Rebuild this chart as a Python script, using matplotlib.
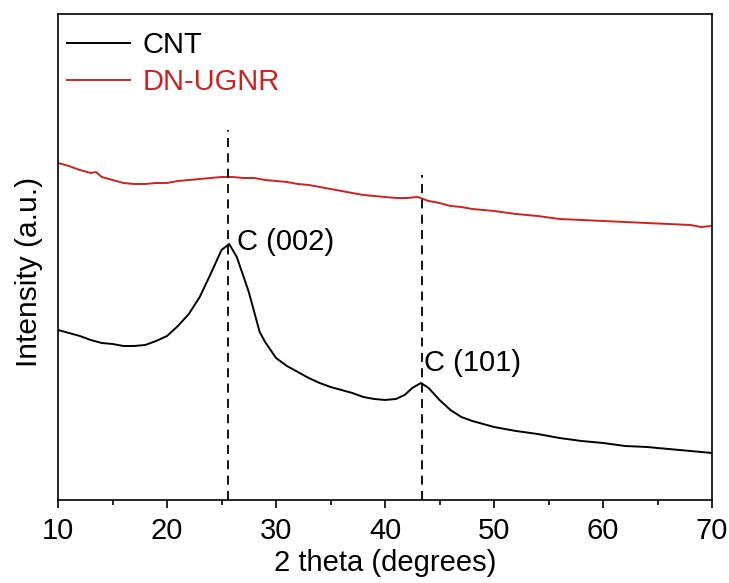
import matplotlib
matplotlib.use("Agg")
import matplotlib.pyplot as plt
from matplotlib.ticker import MultipleLocator

plt.rcParams['font.family'] = ['Liberation Sans', 'DejaVu Sans']

# CNT pattern (2 theta, intensity a.u.)
cnt_2theta = [10, 11, 12, 13, 14, 15, 16, 17, 18, 19, 20, 21, 22, 23, 24, 25,
              25.7, 26.4, 27, 27.5, 28, 28.5, 29, 30, 31, 32, 33, 34, 35, 36,
              37, 38, 39, 40, 41, 41.8, 42.5, 43.3, 44, 45, 46, 47, 48, 49,
              50, 52, 54, 56, 58, 60, 62, 64, 66, 68, 70]
cnt_int = [170, 167, 164, 160, 157, 156, 154, 154, 155, 159, 164, 174, 186,
           203, 226, 250, 256, 243, 224, 208, 188, 168, 158, 142, 134, 128,
           122, 117, 113, 110, 107, 103, 101, 100, 101, 105, 112, 117, 112,
           100, 90, 83, 79, 76, 73, 69, 66, 62, 59, 57, 54, 53, 51, 49, 47]

# DN-UGNR pattern
ugnr_2theta = [10, 11, 12, 13, 13.5, 14, 15, 16, 17, 18, 19, 20, 21, 22, 23,
               24, 25, 26, 27, 28, 29, 30, 31, 32, 33, 34, 35, 36, 37, 38, 39,
               40, 41, 42, 43, 44, 45, 46, 47, 48, 50, 52, 54, 56, 58, 60, 62,
               64, 66, 68, 69, 70]
ugnr_int = [337, 334, 330, 327, 328, 323, 320, 317, 316, 316, 317, 317, 319,
            320, 321, 322, 323, 323, 322, 322, 320, 319, 318, 316, 315, 313,
            311, 309, 307, 305, 304, 303, 302, 302, 303, 299, 297, 294, 293,
            291, 289, 286, 284, 281, 280, 279, 278, 277, 276, 275, 273, 274]

peak_pos = [25.6, 43.4]
peak_top = [370, 325]
peak_labels = ['C (002)', 'C (101)']
peak_label_xy = [(26.4, 258), (43.6, 137)]

red = '#cc2222'

fig = plt.figure(figsize=(7.29, 5.83), dpi=100)
ax = fig.add_axes([0.0796, 0.1424, 0.8971, 0.8336])

ax.plot(cnt_2theta, cnt_int, color='black', lw=1.4, label='CNT')
ax.plot(ugnr_2theta, ugnr_int, color=red, lw=1.4, label='DN-UGNR')

for xp, yt in zip(peak_pos, peak_top):
    ax.plot([xp, xp], [0, yt], color='black', lw=1.3, ls=(0, (5, 3.5)))

for lab, (tx, ty) in zip(peak_labels, peak_label_xy):
    ax.text(tx, ty, lab, fontsize=21, va='center', ha='left')

ax.set_xlim(10, 70)
ax.set_ylim(0, 486)
ax.set_yticks([])
ax.xaxis.set_major_locator(MultipleLocator(10))
ax.xaxis.set_minor_locator(MultipleLocator(5))
ax.tick_params(axis='x', which='major', direction='out', length=6, width=1.2,
               labelsize=21, pad=6)
ax.tick_params(axis='x', which='minor', direction='out', length=3.5, width=1.2)
for s in ax.spines.values():
    s.set_linewidth(1.2)

ax.set_xlabel('2 theta (degrees)', fontsize=21, labelpad=3)
ax.set_ylabel('Intensity (a.u.)', fontsize=21.5)
ax.yaxis.set_label_coords(-0.023, 0.47)

leg = ax.legend(loc='upper left', bbox_to_anchor=(0.0138, 0.965), fontsize=21,
                frameon=False, handlelength=2.15, handletextpad=0.45,
                borderpad=0, borderaxespad=0, labelspacing=0.3)
for t, c in zip(leg.get_texts(), ['black', red]):
    t.set_color(c)

fig.savefig('out.png', dpi=100)
